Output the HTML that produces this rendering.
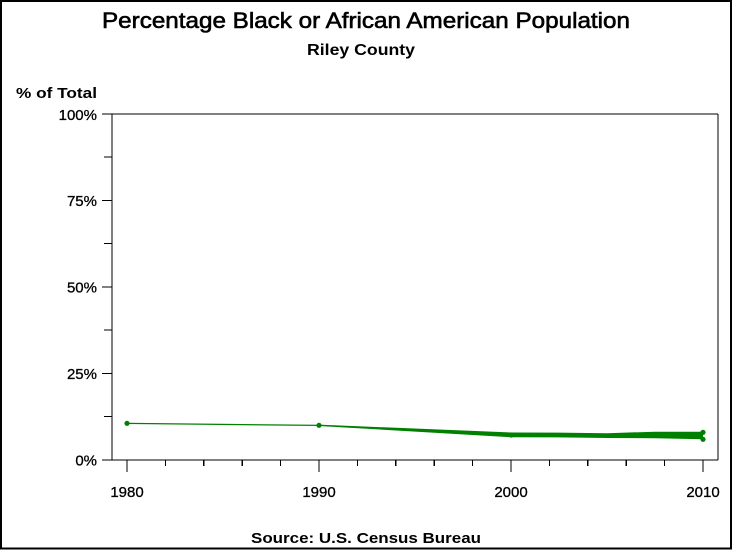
<!DOCTYPE html>
<html>
<head>
<meta charset="utf-8">
<style>
  html, body { margin:0; padding:0; background:#fff; }
  svg { display:block; }
  text { font-family: "Liberation Sans", Arial, sans-serif; fill:#000; }
</style>
</head>
<body>
<svg width="733" height="550" viewBox="0 0 733 550" xmlns="http://www.w3.org/2000/svg">
  <rect x="0" y="0" width="733" height="550" fill="#fff"/>
  <!-- outer border -->
  <rect x="1" y="1" width="730" height="547.5" fill="none" stroke="#000" stroke-width="2"/>

  <!-- titles -->
  <text x="102" y="28" font-size="22" stroke="#000" stroke-width="0.6" textLength="528" lengthAdjust="spacingAndGlyphs">Percentage Black or African American Population</text>
  <text x="307" y="55" font-size="16" font-weight="bold" textLength="108" lengthAdjust="spacingAndGlyphs">Riley County</text>
  <text x="16" y="98" font-size="15" font-weight="bold" textLength="81" lengthAdjust="spacingAndGlyphs">% of Total</text>

  <!-- plot frame -->
  <g stroke="#000" stroke-width="1.2" fill="none" shape-rendering="crispEdges">
    <line x1="112" y1="114" x2="718" y2="114"/>
    <line x1="718" y1="114" x2="718" y2="460"/>
    <line x1="112" y1="114" x2="112" y2="460"/>
    <line x1="102" y1="460" x2="718" y2="460"/>
    <!-- y major ticks -->
    <line x1="102" y1="114" x2="112" y2="114"/>
    <line x1="102" y1="200.5" x2="112" y2="200.5"/>
    <line x1="102" y1="287" x2="112" y2="287"/>
    <line x1="102" y1="373.5" x2="112" y2="373.5"/>
    <!-- y minor ticks -->
    <line x1="104" y1="157" x2="112" y2="157"/>
    <line x1="104" y1="243.5" x2="112" y2="243.5"/>
    <line x1="104" y1="330" x2="112" y2="330"/>
    <line x1="104" y1="416.5" x2="112" y2="416.5"/>
    <!-- x major ticks -->
    <line x1="127" y1="460" x2="127" y2="472"/>
    <line x1="319" y1="460" x2="319" y2="472"/>
    <line x1="511" y1="460" x2="511" y2="472"/>
    <line x1="703" y1="460" x2="703" y2="472"/>
    <!-- x minor ticks -->
    <line x1="165.4" y1="460" x2="165.4" y2="466"/>
    <line x1="203.8" y1="460" x2="203.8" y2="466"/>
    <line x1="242.2" y1="460" x2="242.2" y2="466"/>
    <line x1="280.6" y1="460" x2="280.6" y2="466"/>
    <line x1="357.4" y1="460" x2="357.4" y2="466"/>
    <line x1="395.8" y1="460" x2="395.8" y2="466"/>
    <line x1="434.2" y1="460" x2="434.2" y2="466"/>
    <line x1="472.6" y1="460" x2="472.6" y2="466"/>
    <line x1="549.4" y1="460" x2="549.4" y2="466"/>
    <line x1="587.8" y1="460" x2="587.8" y2="466"/>
    <line x1="626.2" y1="460" x2="626.2" y2="466"/>
    <line x1="664.6" y1="460" x2="664.6" y2="466"/>
  </g>

  <!-- y labels -->
  <g font-size="15" text-anchor="end" stroke="#000" stroke-width="0.3">
    <text x="97" y="120">100%</text>
    <text x="97" y="206">75%</text>
    <text x="97" y="292.5">50%</text>
    <text x="97" y="379">25%</text>
    <text x="97" y="465.5">0%</text>
  </g>

  <!-- x labels -->
  <g font-size="15" text-anchor="middle" stroke="#000" stroke-width="0.3">
    <text x="127" y="497">1980</text>
    <text x="319" y="497">1990</text>
    <text x="511" y="497">2000</text>
    <text x="703" y="497">2010</text>
  </g>

  <!-- data series -->
  <g fill="#008000" stroke="none">
    <polygon points="127,422.8 319,424.8 319,426 127,424"/>
    <polygon points="319,424.6 511,432.5 511,437.2 319,426"/>
    <polygon points="511,432.5 558,432.6 607,433.2 655,431.7 703,431.8 703,439.2 655,438.2 607,438 558,437.4 511,437.3"/>
    <circle cx="127" cy="423.3" r="2.6"/>
    <circle cx="319" cy="425.3" r="2.6"/>
    <circle cx="511" cy="435" r="2.6"/>
    <circle cx="703" cy="432.3" r="2.6"/>
    <circle cx="703" cy="439.3" r="2.6"/>
  </g>

  <!-- footnote -->
  <text x="251" y="543" font-size="15" font-weight="bold" textLength="230" lengthAdjust="spacingAndGlyphs">Source: U.S. Census Bureau</text>
</svg>
</body>
</html>
